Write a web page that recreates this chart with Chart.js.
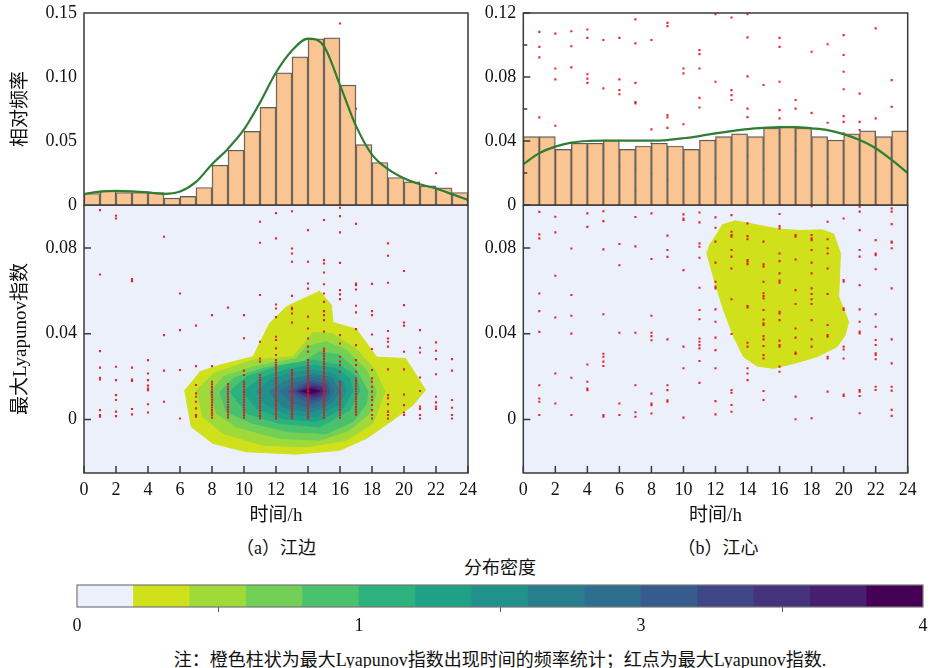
<!DOCTYPE html>
<html>
<head>
<meta charset="utf-8">
<script src="https://cdn.jsdelivr.net/npm/chart.js@4.4.1/dist/chart.umd.min.js"></script>
<style>
  body { margin: 0; background: #fff; width: 930px; height: 668px; position: relative; overflow: hidden;
         font-family: "Liberation Serif", "Noto Sans CJK SC", serif; color: #111; }
  canvas { position: absolute; }
  .t { position: absolute; white-space: nowrap; transform: translate(-50%, -50%); font-size: 18px; }
</style>
</head>
<body>
<canvas id="mainL" width="480" height="330" style="left:0;top:205px;z-index:1"></canvas>
<canvas id="mainR" width="450" height="330" style="left:470px;top:205px;z-index:1"></canvas>
<canvas id="dotsL" width="480" height="480" style="left:0;top:0;z-index:2"></canvas>
<canvas id="dotsR" width="450" height="480" style="left:470px;top:0;z-index:2"></canvas>
<canvas id="histL" width="480" height="210" style="left:0;top:0;z-index:3"></canvas>
<canvas id="histR" width="450" height="210" style="left:470px;top:0;z-index:3"></canvas>
<canvas id="cbar" width="930" height="70" style="left:0;top:570px;z-index:1"></canvas>

<div class="t" style="left:276px;top:546px">（a）江边</div>
<div class="t" style="left:718px;top:546px">（b）江心</div>
<div class="t" style="left:500px;top:566px">分布密度</div>
<div class="t" style="left:500px;top:658px">注：橙色柱状为最大Lyapunov指数出现时间的频率统计；红点为最大Lyapunov指数.</div>

<script>
// hourly bins (centres) and curve hours
const binCenters = [0.5, 1.5, 2.5, 3.5, 4.5, 5.5, 6.5, 7.5, 8.5, 9.5, 10.5, 11.5,
                    12.5, 13.5, 14.5, 15.5, 16.5, 17.5, 18.5, 19.5, 20.5, 21.5, 22.5, 23.5];
const curveHours = [0, 1, 2, 3, 4, 5, 6, 7, 8, 9, 10, 11, 12, 13, 14, 15, 16, 17, 18, 19, 20, 21, 22, 23, 24];

// relative frequency histograms
const histLeft = [0.0090, 0.0111, 0.0098, 0.0098, 0.0098, 0.0054, 0.0067, 0.0137, 0.0311, 0.0428, 0.0576, 0.0763,
                  0.1033, 0.1158, 0.1298, 0.1306, 0.0937, 0.0472, 0.0332, 0.0215, 0.0181, 0.0150, 0.0134, 0.0098];
const histRight = [0.0427, 0.0427, 0.0348, 0.0386, 0.0386, 0.0406, 0.0348, 0.0369, 0.0386, 0.0369, 0.0348, 0.0406,
                   0.0427, 0.0445, 0.0427, 0.0482, 0.0489, 0.0482, 0.0427, 0.0406, 0.0445, 0.0464, 0.0427, 0.0464];

// density curves over the histograms
const curveLeft = [0.0086, 0.0105, 0.0110, 0.0106, 0.0098, 0.0087, 0.0105, 0.0180, 0.0319, 0.0440, 0.0590, 0.0800,
                   0.1035, 0.1207, 0.1300, 0.1240, 0.0937, 0.0618, 0.0393, 0.0280, 0.0209, 0.0162, 0.0129, 0.0085, 0.0039];
const curveRight = [0.0255, 0.0324, 0.0365, 0.0390, 0.0400, 0.0402, 0.0402, 0.0402, 0.0402, 0.0406, 0.0417, 0.0431,
                    0.0448, 0.0462, 0.0474, 0.0482, 0.0487, 0.0487, 0.0479, 0.0468, 0.0443, 0.0406, 0.0355, 0.0282, 0.0200];

// tick values
const xTicks = [0, 2, 4, 6, 8, 10, 12, 14, 16, 18, 20, 22, 24];
const yTicksMain = [0, 0.04, 0.08];
const yTicksHistL = [0, 0.05, 0.10, 0.15];
const yTicksHistR = [0, 0.04, 0.08, 0.12];
const yMinorHistR = [0.02, 0.06, 0.10];
const cbarTickValues = [0, 5, 10, 15];
const cbarTickLabels = ['0', '1', '3', '4'];

// colour levels of the density
const densityColors = ['#ecf0fb', '#d0e11c', '#a0da39', '#73d056', '#4ac16d', '#2db27d', '#1fa187', '#21918c',
                       '#277f8e', '#2e6e8e', '#365c8d', '#3f4788', '#46337e', '#481f70', '#440154'];

// largest Lyapunov exponent per hour (index = hour), (a) river bank
const leftDots = [
  [],
  [0.0976, 0.0676, 0.0318, 0.0241, 0.0194, 0.0186, 0.0043, 0.002, 0.0012],
  [0.095, 0.0937, 0.0245, 0.0183, 0.0113, 0.009, 0.0036, 0.0015],
  [0.0654, 0.0645, 0.0241, 0.0185, 0.0179, 0.0048, 0.0023],
  [0.0276, 0.0214, 0.0183, 0.0157, 0.0144, 0.0136, 0.007, 0.0032],
  [0.0852, 0.0393, 0.0227, 0.0082],
  [0.0587, 0.0416, 0.023, 0.0004],
  [0.0437, 0.0248, 0.016, 0.0121, 0.0105, 0.0082, 0.0051, 0.002, 0.0012],
  [0.0486, 0.0248, 0.0175, 0.0163, 0.0151, 0.0139, 0.0127, 0.0115, 0.0103, 0.0091, 0.0079, 0.0067, 0.0055, 0.0043,
   0.0031, 0.0019, 0.0007],
  [0.0521, 0.0165, 0.0153, 0.0141, 0.0129, 0.0117, 0.0105, 0.0093, 0.0081, 0.0069, 0.0057, 0.0045, 0.0033, 0.0021,
   0.0009],
  [0.0486, 0.0378, 0.0227, 0.0207, 0.0176, 0.0163, 0.0151, 0.0139, 0.0127, 0.0115, 0.0103, 0.0091, 0.0079, 0.0067,
   0.0055, 0.0043, 0.0031, 0.0019, 0.0007],
  [0.0922, 0.0824, 0.058, 0.0362, 0.0284, 0.0269, 0.0207, 0.0195, 0.0183, 0.0171, 0.0159, 0.0147, 0.0135, 0.0123,
   0.0111, 0.0099, 0.0087, 0.0075, 0.0063, 0.0051, 0.0039, 0.0027, 0.0015, 0.0004],
  [0.106, 0.0962, 0.0844, 0.0536, 0.0517, 0.0477, 0.0385, 0.037, 0.0331, 0.03, 0.0277, 0.0265, 0.0253, 0.0241,
   0.0229, 0.0217, 0.0205, 0.0193, 0.0181, 0.0169, 0.0157, 0.0145, 0.0133, 0.0121, 0.0109, 0.0097, 0.0085, 0.0073,
   0.0061, 0.0049, 0.0037, 0.0025, 0.0013, 0.0004],
  [0.111, 0.0971, 0.0797, 0.0774, 0.0735, 0.0576, 0.052, 0.0514, 0.0494, 0.0452, 0.023, 0.0218, 0.0206, 0.0194,
   0.0182, 0.017, 0.0158, 0.0146, 0.0134, 0.0122, 0.011, 0.0098, 0.0086, 0.0074, 0.0062, 0.005, 0.0038, 0.0026,
   0.0014, 0.0004],
  [0.157, 0.130, 0.115, 0.1058, 0.0883, 0.0735, 0.0634, 0.061, 0.0479, 0.0424, 0.0377, 0.0339, 0.0315, 0.0276,
   0.0264, 0.0252, 0.024, 0.0228, 0.0216, 0.0204, 0.0192, 0.018, 0.0168, 0.0156, 0.0144, 0.0132, 0.012, 0.0108,
   0.0096, 0.0084, 0.0072, 0.006, 0.0048, 0.0036, 0.0024, 0.0012, 0.0004],
  [0.149, 0.143, 0.136, 0.130, 0.127, 0.115, 0.093, 0.0743, 0.0727, 0.0685, 0.063, 0.0587, 0.0548, 0.0505, 0.0486,
   0.0463, 0.0409, 0.033, 0.0318, 0.0306, 0.0294, 0.0282, 0.027, 0.0258, 0.0246, 0.0234, 0.0222, 0.021, 0.0198,
   0.0186, 0.0174, 0.0162, 0.015, 0.0138, 0.0126, 0.0114, 0.0102, 0.009, 0.0078, 0.0066, 0.0054, 0.0042, 0.003,
   0.0018, 0.0006],
  [0.1847, 0.152, 0.1015, 0.0987, 0.0948, 0.0872, 0.073, 0.0603, 0.0583, 0.0561, 0.0393, 0.0354, 0.0292, 0.0269,
   0.0253, 0.0222, 0.0175, 0.0163, 0.0151, 0.0139, 0.0127, 0.0115, 0.0103, 0.0091, 0.0079, 0.0067, 0.0055, 0.0043,
   0.0031, 0.0019, 0.0007],
  [0.145, 0.0912, 0.0634, 0.0626, 0.0606, 0.053, 0.0499, 0.0421, 0.0346, 0.0276, 0.0253, 0.0222, 0.019, 0.0178,
   0.0166, 0.0154, 0.0142, 0.013, 0.0118, 0.0106, 0.0094, 0.0082, 0.007, 0.0058, 0.0046, 0.0034, 0.0022],
  [0.0632, 0.0505, 0.0486, 0.0396, 0.0328, 0.023, 0.0191, 0.0175, 0.0152, 0.0129, 0.0105, 0.009, 0.0067, 0.0043,
   0.002, 0.0004],
  [0.0821, 0.0763, 0.0637, 0.0412, 0.0377, 0.0362, 0.0339, 0.0233, 0.0113, 0.0098, 0.007, 0.0036, 0.002, 0.0004],
  [0.0692, 0.0533, 0.0452, 0.0437, 0.0315, 0.0233, 0.0116, 0.0066, 0.0032, 0.002],
  [0.0416, 0.0334, 0.0312, 0.0195, 0.0132, 0.0059, 0.0048, 0.002, 0.0004],
  [0.1148, 0.0359, 0.032, 0.0281, 0.021, 0.0105, 0.0079, 0.0059, 0.0048],
  [0.0281, 0.0227, 0.009, 0.0054, 0.002, 0.0004]
];

// (b) river centre
const rightDots = [
  [],
  [0.1808, 0.1738, 0.1689, 0.1409, 0.0968, 0.0863, 0.0844, 0.0587, 0.0505, 0.0408, 0.0159, 0.0097, 0.0082, 0.002],
  [0.18, 0.1637, 0.1586, 0.137, 0.0945, 0.0872, 0.067, 0.0475, 0.0214, 0.0074],
  [0.1811, 0.1741, 0.1642, 0.0797, 0.058, 0.0483, 0.04, 0.0194, 0.002],
  [0.1819, 0.178, 0.161, 0.159, 0.157, 0.115, 0.0961, 0.0898, 0.0256, 0.0175, 0.0144, 0.0136],
  [0.177, 0.1544, 0.1199, 0.1028, 0.0971, 0.0925, 0.0793, 0.049, 0.0306, 0.0292, 0.0269, 0.0249, 0.002, 0.0012],
  [0.1902, 0.178, 0.1586, 0.1536, 0.1517, 0.118, 0.0818, 0.0719, 0.0404, 0.0074, 0.002],
  [0.1866, 0.1754, 0.157, 0.148, 0.1474, 0.117, 0.107, 0.0944, 0.0807, 0.0404, 0.0159, 0.0033, 0.0012],
  [0.177, 0.1353, 0.1287, 0.1147, 0.0961, 0.0748, 0.0483, 0.0404, 0.0388, 0.0369, 0.012, 0.0074, 0.0066, 0.0027],
  [0.185, 0.1835, 0.142, 0.1409, 0.136, 0.1116, 0.0857, 0.079, 0.0758, 0.0373, 0.0159, 0.0136, 0.0089, 0.0082],
  [0.1637, 0.1614, 0.1377, 0.1197, 0.0956, 0.0937, 0.093, 0.0696, 0.0339, 0.0238, 0.0008],
  [0.1723, 0.1704, 0.1637, 0.15, 0.1455, 0.0965, 0.0919, 0.0821, 0.0805, 0.0754, 0.0614, 0.051, 0.0467, 0.0377,
   0.0362, 0.0346, 0.0331, 0.0272, 0.017],
  [0.189, 0.1575, 0.13, 0.1124, 0.0942, 0.0894, 0.0829, 0.0731, 0.0642, 0.0619, 0.0611, 0.0513, 0.0455, 0.0381,
   0.0323, 0.0238, 0.0085, 0.0023],
  [0.1875, 0.1536, 0.1513, 0.149, 0.0953, 0.0875, 0.086, 0.0852, 0.079, 0.0759, 0.0704, 0.056, 0.0398, 0.0137,
   0.0124, 0.0067, 0.0035],
  [0.189, 0.1782, 0.16, 0.145, 0.141, 0.1225, 0.0914, 0.0855, 0.084, 0.0743, 0.0735, 0.0724, 0.0528, 0.0522, 0.0357,
   0.0339, 0.0238, 0.0214, 0.0183],
  [0.156, 0.117, 0.0829, 0.0723, 0.0712, 0.0642, 0.0588, 0.0575, 0.0564, 0.051, 0.0466, 0.0448, 0.044, 0.0388,
   0.0373, 0.0342, 0.03, 0.0284, 0.0132, 0.009],
  [0.178, 0.1738, 0.1575, 0.1443, 0.1404, 0.0958, 0.0902, 0.0891, 0.0774, 0.0738, 0.0681, 0.0647, 0.0637, 0.0502,
   0.0494, 0.0463, 0.0367, 0.0347, 0.0339, 0.0246, 0.0222],
  [0.149, 0.145, 0.13, 0.1256, 0.086, 0.0852, 0.0746, 0.0603, 0.0538, 0.0424, 0.0381, 0.0311, 0.0305, 0.0106, 0.0],
  [0.1715, 0.143, 0.0995, 0.086, 0.0844, 0.0836, 0.079, 0.0731, 0.0681, 0.0611, 0.0585, 0.056, 0.0538, 0.0463,
   0.0373, 0.0339, 0.0005],
  [0.175, 0.1384, 0.113, 0.0922, 0.084, 0.0798, 0.0774, 0.0704, 0.0585, 0.044, 0.0393, 0.0385, 0.0292, 0.0284, 0.0129],
  [0.1793, 0.17, 0.1622, 0.154, 0.1415, 0.1388, 0.1334, 0.0937, 0.065, 0.0642, 0.0518, 0.051, 0.0339, 0.0326,
   0.0284, 0.0116, 0.0109],
  [0.152, 0.1388, 0.135, 0.1272, 0.0992, 0.0969, 0.0883, 0.079, 0.0759, 0.0626, 0.0513, 0.0455, 0.0409, 0.0401,
   0.0137, 0.0129, 0.0109, 0.0028],
  [0.1824, 0.1404, 0.0836, 0.0774, 0.0766, 0.07, 0.049, 0.0432, 0.037, 0.0347, 0.0308, 0.03, 0.028, 0.0152, 0.0137],
  [0.1583, 0.1458, 0.0984, 0.0969, 0.0911, 0.0829, 0.0824, 0.0798, 0.0611, 0.0373, 0.0261, 0.0152, 0.0134, 0.0044,
   0.0016]
];

// density contour outlines (hour, exponent), outermost level first
const leftContours = [
  [[6.29,0.0137],[6.71,-0.0035],[8.06,-0.0112],[10.15,-0.0151],[13.27,-0.0162],[15.98,-0.0144],[17.65,-0.0089],
   [19.31,-0.0003],[20.56,0.0067],[21.35,0.0137],[20.1,0.0284],[18.3,0.0290],[17.02,0.0421],[15.56,0.0452],
   [15.46,0.0533],[14.73,0.0598],[12.65,0.0526],[11.6,0.0448],[10.56,0.0292],[8.48,0.0253],[7.23,0.0222]],
  [[7.02,0.0137],[7.44,0.0012],[8.69,-0.0066],[11.19,-0.012],[13.9,-0.0128],[16.4,-0.0097],[18.06,-0.0019],
   [18.8,0.0130],[18.2,0.0230],[17.0,0.0330],[15.5,0.0400],[14.3,0.0405],[13.06,0.0292],[10.56,0.0277],[8.06,0.0214]],
  [[7.86,0.0129],[8.27,0.0028],[9.52,-0.0035],[12.23,-0.0089],[14.73,-0.0097],[16.6,-0.005],[17.85,0.0028],
   [18.27,0.0129],[17.65,0.023],[16.4,0.0323],[15.15,0.0362],[13.9,0.0339],[13.27,0.0284],[10.56,0.0245],[8.69,0.0199]],
  [[8.48,0.0129],[8.9,0.0035],[10.56,-0.0019],[12.86,-0.0058],[15.15,-0.0066],[16.81,-0.0011],[17.65,0.0074],
   [17.75,0.0129],[17.02,0.023],[15.98,0.03],[14.73,0.0315],[13.69,0.0269],[11.19,0.0238],[9.31,0.0191]],
  [[9.11,0.0132],[10.15,0.0028],[12.23,-0.0019],[14.73,-0.0035],[16.6,0.0043],[17.23,0.0132],[17.02,0.0199],
   [15.98,0.0253],[14.31,0.0277],[12.23,0.0249],[10.15,0.0199]],
  [[9.94,0.0132],[10.77,0.0051],[12.44,0.0004],[14.52,-0.0011],[16.19,0.0051],[16.81,0.0132],[16.6,0.0191],
   [15.77,0.0238],[14.31,0.0253],[12.65,0.0233],[10.98,0.0191]],
  [[10.77,0.0132],[11.4,0.0067],[12.65,0.0028],[14.42,0.0012],[15.88,0.0067],[16.4,0.0132],[16.19,0.0175],
   [15.56,0.0214],[14.31,0.023],[12.86,0.0214],[11.6,0.0183]],
  [[11.6,0.0132],[12.02,0.0087],[12.65,0.0051],[14.31,0.0035],[15.46,0.0074],[15.98,0.0132],[15.46,0.0196],
   [14.31,0.0211],[12.44,0.0175]],
  [[12.23,0.0132],[13.06,0.0074],[14.31,0.0054],[15.25,0.0087],[15.67,0.0132],[15.25,0.018],[14.31,0.0196],
   [13.06,0.0168]],
  [[12.75,0.0132],[13.48,0.0098],[14.31,0.0074],[15.15,0.0102],[15.4,0.0132],[15.15,0.0164],[14.31,0.018],
   [13.48,0.016]],
  [[13.06,0.0132],[13.69,0.0109],[14.31,0.009],[14.94,0.0109],[15.19,0.0132],[14.94,0.0155],[14.31,0.0168],
   [13.69,0.0155]],
  [[13.27,0.0132],[13.79,0.0113],[14.31,0.0102],[14.83,0.0113],[15.04,0.0132],[14.83,0.015],[14.31,0.0157],
   [13.79,0.015]],
  [[13.38,0.0132],[13.9,0.0118],[14.42,0.0113],[14.94,0.0132],[14.42,0.015],[13.9,0.0144]],
  [[13.58,0.0132],[14.21,0.0121],[14.73,0.0132],[14.21,0.0143]]
];
const rightContours = [
  [[12.4,0.0907],[13.23,0.0926],[14.59,0.0907],[16.04,0.0887],[17.29,0.0881],[18.65,0.0884],[19.38,0.0865],
   [19.8,0.0775],[19.69,0.0572],[20.31,0.0456],[20.1,0.0393],[19.59,0.0339],[18.34,0.0292],[16.88,0.0261],
   [15.63,0.0238],[14.59,0.0249],[13.75,0.0292],[13.13,0.0386],[12.5,0.051],[11.98,0.0635],[11.46,0.0775],[11.67,0.0821]]
];

const tickFont = { family: '"Liberation Serif", serif', size: 18 };
const titleFont = { family: '"Liberation Serif", "Noto Sans CJK SC", serif', size: 19 };
const tickColor = '#111';
const frameColor = '#3a3a3a';

function fmtTick(v) {
  return v === 0 ? '0' : v.toFixed(2);
}

// frame, optional background, inward tick marks
function makeFrame(cfg) {
  return {
    id: 'frame',
    beforeDraw(chart) {
      if (!cfg.bg) return;
      const a = chart.chartArea, ctx = chart.ctx;
      ctx.save();
      ctx.fillStyle = cfg.bg;
      ctx.fillRect(a.left, a.top, a.right - a.left, a.bottom - a.top);
      ctx.restore();
    },
    afterDraw(chart) {
      const a = chart.chartArea, ctx = chart.ctx;
      ctx.save();
      ctx.strokeStyle = cfg.color || frameColor;
      ctx.lineWidth = cfg.width || 1.5;
      ctx.beginPath();
      if (cfg.xTicks) {
        chart.scales.x.ticks.forEach(t => {
          const x = chart.scales.x.getPixelForValue(t.value);
          ctx.moveTo(x, a.bottom);
          ctx.lineTo(x, a.bottom - 7);
        });
      }
      if (cfg.yTicks) {
        chart.scales.y.ticks.forEach(t => {
          const y = chart.scales.y.getPixelForValue(t.value);
          ctx.moveTo(a.left, y);
          ctx.lineTo(a.left + 7, y);
        });
      }
      (cfg.yMinor || []).forEach(v => {
        const y = chart.scales.y.getPixelForValue(v);
        ctx.moveTo(a.left, y);
        ctx.lineTo(a.left + 4, y);
      });
      ctx.stroke();
      ctx.strokeRect(a.left, a.top, a.right - a.left, a.bottom - a.top);
      ctx.restore();
    }
  };
}

function fixWidth(w) {
  return scale => { scale.width = w; scale.paddingTop = 0; scale.paddingBottom = 0; };
}
function fixHeight(h) {
  return scale => { scale.height = h; scale.paddingLeft = 0; scale.paddingRight = 0; };
}

const baseOptions = {
  responsive: false,
  animation: false,
  devicePixelRatio: 1,
  events: []
};

function renderHist(id, values, curve, yTicks, yMax, axisW, padRight, title, withTicks, minor) {
  new Chart(document.getElementById(id), {
    type: 'bar',
    data: {
      datasets: [
        {
          type: 'line',
          data: curve.map((v, i) => ({ x: curveHours[i], y: v })),
          borderColor: '#2f7d32',
          borderWidth: 2.2,
          pointRadius: 0,
          cubicInterpolationMode: 'monotone',
          fill: false,
          order: 0
        },
        {
          type: 'bar',
          data: values.map((v, i) => ({ x: binCenters[i], y: v })),
          backgroundColor: 'rgba(248,188,129,0.86)',
          borderColor: '#5c5c5c',
          borderWidth: 1.2,
          barPercentage: 1,
          categoryPercentage: 1,
          order: 1
        }
      ]
    },
    options: {
      ...baseOptions,
      layout: { padding: { top: 13, right: padRight, bottom: 5, left: 0 } },
      plugins: { legend: { display: false }, tooltip: { enabled: false } },
      scales: {
        x: { type: 'linear', min: 0, max: 24, offset: false, display: false },
        y: {
          min: 0, max: yMax,
          afterBuildTicks: s => { s.ticks = yTicks.map(v => ({ value: v })); },
          afterFit: fixWidth(axisW),
          grid: { display: false, drawTicks: false },
          border: { display: false },
          ticks: { font: tickFont, color: tickColor, padding: 7, callback: v => fmtTick(v) },
          title: { display: !!title, text: title, font: titleFont, color: tickColor, padding: { top: 10 } }
        }
      }
    },
    plugins: [makeFrame({ yTicks: withTicks, yMinor: minor })]
  });
}

function renderMain(id, contours, axisW, padRight, title) {
  const datasets = contours.map((poly, k) => ({
    data: poly.map(p => ({ x: p[0], y: p[1] })),
    fill: 'shape',
    backgroundColor: densityColors[k + 1],
    borderColor: densityColors[k + 1],
    borderWidth: 1,
    pointRadius: 0,
    tension: 0,
    order: 100 - k
  }));
  new Chart(document.getElementById(id), {
    type: 'line',
    data: { datasets },
    options: {
      ...baseOptions,
      layout: { padding: { top: 0, right: padRight, bottom: 0, left: 0 } },
      plugins: { legend: { display: false }, tooltip: { enabled: false } },
      scales: {
        x: {
          type: 'linear', min: 0, max: 24,
          afterBuildTicks: s => { s.ticks = xTicks.map(v => ({ value: v })); },
          afterFit: fixHeight(62),
          grid: { display: false, drawTicks: false },
          border: { display: false },
          ticks: { font: tickFont, color: tickColor, padding: 6, maxRotation: 0 },
          title: { display: true, text: '时间/h', font: titleFont, color: tickColor, padding: { bottom: 8 } }
        },
        y: {
          min: -0.025, max: 0.1,
          afterBuildTicks: s => { s.ticks = yTicksMain.map(v => ({ value: v })); },
          afterFit: fixWidth(axisW),
          grid: { display: false, drawTicks: false },
          border: { display: false },
          ticks: { font: tickFont, color: tickColor, padding: 7, callback: v => fmtTick(v) },
          title: { display: !!title, text: title, font: titleFont, color: tickColor, padding: { top: 10 } }
        }
      }
    },
    plugins: [makeFrame({ bg: densityColors[0], xTicks: true, yTicks: true })]
  });
}

function renderDots(id, cols, padLeft, padRight) {
  const pts = [];
  cols.forEach((vals, h) => vals.forEach(v => pts.push({ x: h, y: v })));
  new Chart(document.getElementById(id), {
    type: 'scatter',
    data: {
      datasets: [{
        data: pts,
        pointStyle: 'rect',
        pointRadius: 1.5,
        borderWidth: 0,
        backgroundColor: 'rgba(228,18,28,0.9)'
      }]
    },
    options: {
      ...baseOptions,
      layout: { padding: { top: 13, right: padRight, bottom: 6.7, left: padLeft } },
      plugins: { legend: { display: false }, tooltip: { enabled: false } },
      scales: {
        x: { type: 'linear', min: 0, max: 24, display: false },
        y: { min: -0.0252, max: 0.1896, display: false }
      }
    }
  });
}

function renderColorbar() {
  new Chart(document.getElementById('cbar'), {
    type: 'bar',
    data: {
      datasets: [{
        data: densityColors.map((c, i) => ({ x: i + 0.5, y: 1 })),
        backgroundColor: densityColors,
        borderWidth: 0,
        barPercentage: 1,
        categoryPercentage: 1
      }]
    },
    options: {
      ...baseOptions,
      layout: { padding: { top: 15, right: 7, bottom: 0, left: 77 } },
      plugins: { legend: { display: false }, tooltip: { enabled: false } },
      scales: {
        x: {
          type: 'linear', min: 0, max: 15, offset: false,
          afterBuildTicks: s => { s.ticks = cbarTickValues.map(v => ({ value: v })); },
          afterFit: fixHeight(33),
          grid: { drawOnChartArea: false, drawTicks: true, tickLength: 5, color: '#555', lineWidth: 1 },
          border: { display: false },
          ticks: { font: tickFont, color: tickColor, padding: 3, maxRotation: 0,
                   callback: v => cbarTickLabels[cbarTickValues.indexOf(v)] }
        },
        y: { min: 0, max: 1, display: false }
      }
    },
    plugins: [makeFrame({ color: '#777', width: 1.2 })]
  });
}

renderMain('mainL', leftContours, 84, 12, '最大Lyapunov指数');
renderMain('mainR', rightContours, 53.3, 12.3, '');
renderDots('dotsL', leftDots, 84, 12);
renderDots('dotsR', rightDots, 53.3, 12.3);
renderHist('histL', histLeft, curveLeft, yTicksHistL, 0.15, 84, 12, '相对频率', false, []);
renderHist('histR', histRight, curveRight, yTicksHistR, 0.12, 53.3, 12.3, '', true, yMinorHistR);
renderColorbar();
</script>
</body>
</html>
